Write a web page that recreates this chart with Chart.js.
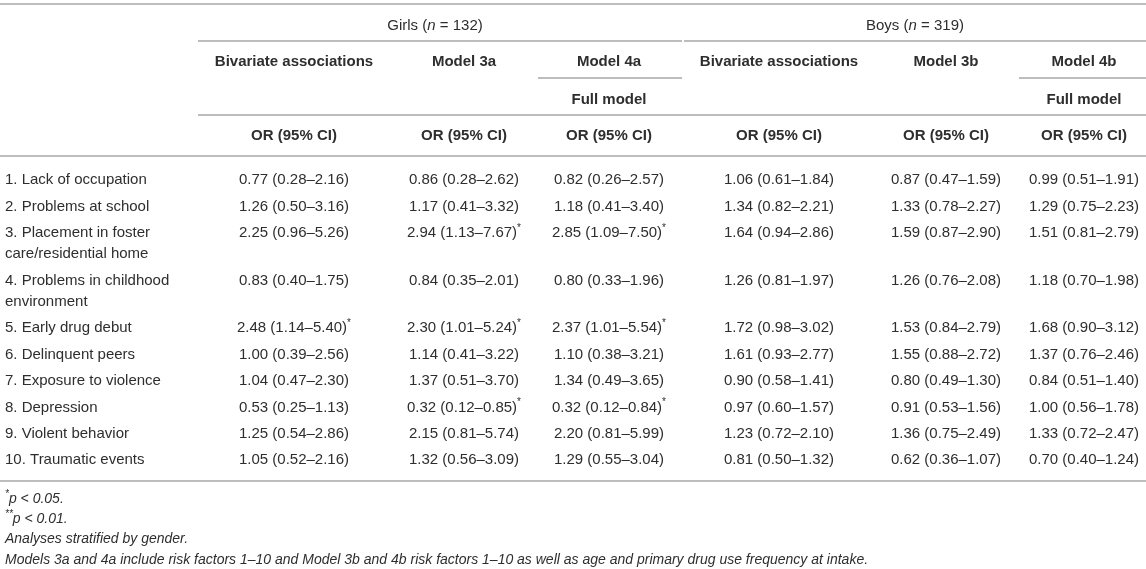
<!DOCTYPE html>
<html>
<head>
<meta charset="utf-8">
<script src="https://cdn.jsdelivr.net/npm/chart.js@4"></script>
<style>
  html, body { margin: 0; padding: 0; background: #fff; }
  canvas { display: block; }
</style>
</head>
<body>
<canvas id="table" width="1146" height="569"></canvas>
<script>
const factors = [
  ['1. Lack of occupation'],
  ['2. Problems at school'],
  ['3. Placement in foster', 'care/residential home'],
  ['4. Problems in childhood', 'environment'],
  ['5. Early drug debut'],
  ['6. Delinquent peers'],
  ['7. Exposure to violence'],
  ['8. Depression'],
  ['9. Violent behavior'],
  ['10. Traumatic events'],
];

// [OR, CI low, CI high, marker]
const girlsBivariate = [[0.77, 0.28, 2.16], [1.26, 0.50, 3.16], [2.25, 0.96, 5.26], [0.83, 0.40, 1.75], [2.48, 1.14, 5.40, '*'],
  [1.00, 0.39, 2.56], [1.04, 0.47, 2.30], [0.53, 0.25, 1.13], [1.25, 0.54, 2.86], [1.05, 0.52, 2.16]];
const girlsModel3a = [[0.86, 0.28, 2.62], [1.17, 0.41, 3.32], [2.94, 1.13, 7.67, '*'], [0.84, 0.35, 2.01], [2.30, 1.01, 5.24, '*'],
  [1.14, 0.41, 3.22], [1.37, 0.51, 3.70], [0.32, 0.12, 0.85, '*'], [2.15, 0.81, 5.74], [1.32, 0.56, 3.09]];
const girlsModel4a = [[0.82, 0.26, 2.57], [1.18, 0.41, 3.40], [2.85, 1.09, 7.50, '*'], [0.80, 0.33, 1.96], [2.37, 1.01, 5.54, '*'],
  [1.10, 0.38, 3.21], [1.34, 0.49, 3.65], [0.32, 0.12, 0.84, '*'], [2.20, 0.81, 5.99], [1.29, 0.55, 3.04]];
const boysBivariate = [[1.06, 0.61, 1.84], [1.34, 0.82, 2.21], [1.64, 0.94, 2.86], [1.26, 0.81, 1.97], [1.72, 0.98, 3.02],
  [1.61, 0.93, 2.77], [0.90, 0.58, 1.41], [0.97, 0.60, 1.57], [1.23, 0.72, 2.10], [0.81, 0.50, 1.32]];
const boysModel3b = [[0.87, 0.47, 1.59], [1.33, 0.78, 2.27], [1.59, 0.87, 2.90], [1.26, 0.76, 2.08], [1.53, 0.84, 2.79],
  [1.55, 0.88, 2.72], [0.80, 0.49, 1.30], [0.91, 0.53, 1.56], [1.36, 0.75, 2.49], [0.62, 0.36, 1.07]];
const boysModel4b = [[0.99, 0.51, 1.91], [1.29, 0.75, 2.23], [1.51, 0.81, 2.79], [1.18, 0.70, 1.98], [1.68, 0.90, 3.12],
  [1.37, 0.76, 2.46], [0.84, 0.51, 1.40], [1.00, 0.56, 1.78], [1.33, 0.72, 2.47], [0.70, 0.40, 1.24]];

const groups = [['Girls', 132], ['Boys', 319]];
const modelNames = ['Bivariate associations', 'Model 3a', 'Model 4a', 'Bivariate associations', 'Model 3b', 'Model 4b'];
const subNames = ['', '', 'Full model', '', '', 'Full model'];
const statLabel = 'OR (95% CI)';
const footnotes = [
  [{ t: '*', sup: true }, { t: 'p < 0.05.' }],
  [{ t: '**', sup: true }, { t: 'p < 0.01.' }],
  [{ t: 'Analyses stratified by gender.' }],
  [{ t: 'Models 3a and 4a include risk factors 1–10 and Model 3b and 4b risk factors 1–10 as well as age and primary drug use frequency at intake.' }],
];

// --- layout ---
const W = 1146, H = 569;
const TEXT = '#2e2e2e';
const RULE = '#bdbdbd';
const FAMILY = '"Liberation Sans", Arial, sans-serif';
const colX = [294, 464, 609, 779, 946, 1084];
const groupSpan = [[198, 672], [684, W]];
const labelX = 5;
const headerY = [25, 61, 99, 135];
const firstRowY = 179, rowPitch = 26.4, lineGap = 21.3;
const footY = 498, footGap = 20.3;
const rules = [
  [0, W, 4], [198, 682, 41], [684, W, 41], [538, 682, 78], [1019, W, 78],
  [198, W, 115], [0, W, 156], [0, W, 481],
];

const rowY = [];
factors.reduce((y, lines) => { rowY.push(y); return y + rowPitch + (lines.length - 1) * lineGap; }, firstRowY);

const fmt = v => v.toFixed(2);
const cellRuns = c => {
  const runs = [{ t: `${fmt(c[0])} (${fmt(c[1])}–${fmt(c[2])})` }];
  if (c[3]) runs.push({ t: c[3], sup: true });
  return runs;
};

function font(r, size) {
  return `${r.italic ? 'italic ' : ''}${r.bold ? 'bold ' : ''}${r.sup ? 10 : size}px ${FAMILY}`;
}

function drawRuns(ctx, runs, x, y, align, size, base) {
  const rs = runs.map(r => Object.assign({}, base, r));
  let w = 0;
  rs.forEach(r => { ctx.font = font(r, size); r.w = ctx.measureText(r.t).width; w += r.w; });
  let cx = align === 'center' ? x - w / 2 : x;
  ctx.textAlign = 'left';
  rs.forEach(r => {
    ctx.font = font(r, size);
    ctx.fillText(r.t, cx, y + 1 + (r.sup ? -5 : 0));
    cx += r.w;
  });
}

const tableText = {
  id: 'tableText',
  afterDatasetsDraw(chart) {
    const { ctx, scales: { x, y } } = chart;
    ctx.save();
    ctx.fillStyle = TEXT;
    ctx.textBaseline = 'middle';

    groups.forEach(([name, n], g) => {
      const cx = x.getPixelForValue((groupSpan[g][0] + groupSpan[g][1]) / 2);
      drawRuns(ctx, [{ t: name + ' (' }, { t: 'n', italic: true }, { t: ' = ' + n + ')' }], cx, y.getPixelForValue(headerY[0]), 'center', 15, {});
    });
    colX.forEach((c, i) => {
      const cx = x.getPixelForValue(c);
      drawRuns(ctx, [{ t: modelNames[i] }], cx, y.getPixelForValue(headerY[1]), 'center', 15, { bold: true });
      if (subNames[i]) drawRuns(ctx, [{ t: subNames[i] }], cx, y.getPixelForValue(headerY[2]), 'center', 15, { bold: true });
      drawRuns(ctx, [{ t: statLabel }], cx, y.getPixelForValue(headerY[3]), 'center', 15, { bold: true });
    });

    chart.data.datasets.forEach((ds, di) => {
      if (!ds.cells) return;
      chart.getDatasetMeta(di).data.forEach((pt, i) => {
        ds.cells[i].forEach((runs, k) => {
          const py = y.getPixelForValue(ds.data[i].y + k * lineGap);
          drawRuns(ctx, runs, pt.x, py, ds.align, 15, {});
        });
      });
    });

    footnotes.forEach((runs, i) => {
      drawRuns(ctx, runs, x.getPixelForValue(labelX), y.getPixelForValue(footY + i * footGap), 'left', 14, { italic: true });
    });
    ctx.restore();
  },
};

const columns = [girlsBivariate, girlsModel3a, girlsModel4a, boysBivariate, boysModel3b, boysModel4b];
const cellSets = columns.map((col, c) => ({
  label: modelNames[c],
  data: col.map((_, i) => ({ x: colX[c], y: rowY[i] })),
  cells: col.map(v => [cellRuns(v)]),
  align: 'center',
  pointRadius: 0,
  showLine: false,
}));
const labelSet = {
  label: 'Risk factor',
  data: factors.map((_, i) => ({ x: labelX, y: rowY[i] })),
  cells: factors.map(lines => lines.map(t => [{ t }])),
  align: 'left',
  pointRadius: 0,
  showLine: false,
};
const ruleSets = rules.map(([x0, x1, ry]) => ({
  type: 'line',
  data: [{ x: x0, y: ry }, { x: x1, y: ry }],
  borderColor: RULE,
  borderWidth: 2,
  pointRadius: 0,
  showLine: true,
  clip: false,
}));

new Chart(document.getElementById('table'), {
  type: 'scatter',
  data: { datasets: [...ruleSets, labelSet, ...cellSets] },
  options: {
    responsive: false,
    animation: false,
    layout: { padding: 0 },
    plugins: { legend: { display: false }, tooltip: { enabled: false } },
    scales: {
      x: { type: 'linear', min: 0, max: W, display: false },
      y: { type: 'linear', min: 0, max: H, reverse: true, display: false },
    },
  },
  plugins: [tableText],
});
</script>
</body>
</html>
